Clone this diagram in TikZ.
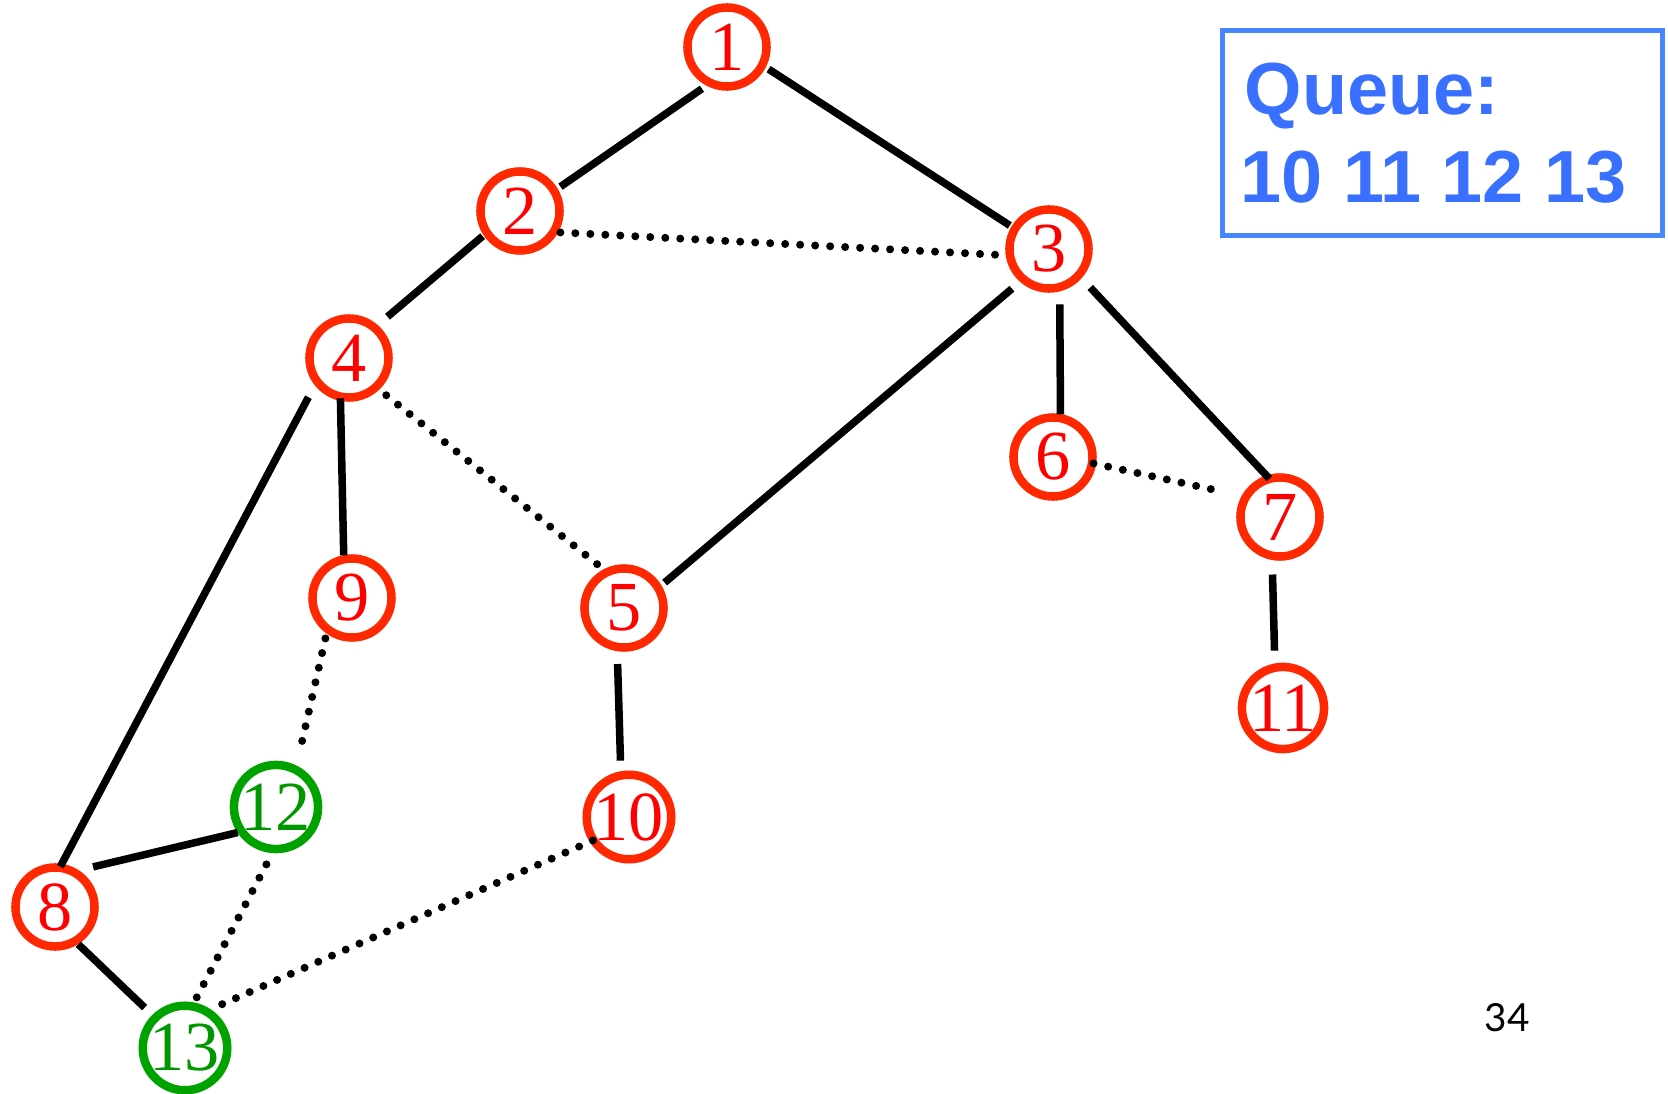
\documentclass[tikz,border=0pt]{standalone}
\usepackage{fontspec}
\setmainfont{Liberation Serif}
\newfontfamily\queuefont{Liberation Sans}
\newfontfamily\pagefont{Lato}
\usetikzlibrary{calc}
\definecolor{ringred}{RGB}{255,40,0}
\definecolor{numred}{RGB}{255,0,0}
\definecolor{ringgreen}{RGB}{0,162,0}
\definecolor{numgreen}{RGB}{0,150,0}
\definecolor{queueblue}{RGB}{70,135,255}
\definecolor{queuetext}{RGB}{58,112,255}
\begin{document}
\begin{tikzpicture}[x=0.01cm,y=0.01cm,
  vertex/.style={circle,draw=ringred,text=numred,line width=0.085cm,minimum size=0.79cm,inner sep=0pt,font=\fontsize{20}{20}\selectfont},
  newvertex/.style={vertex,draw=ringgreen,text=numgreen},
  tree/.style={line width=0.075cm},
  cross/.style={line width=0.08cm,line cap=round,dash pattern=on 0pt off 0.15cm},
  qbox/.style={draw=queueblue,line width=0.055cm,minimum width=4.4cm,minimum height=2.05cm,inner sep=0pt},
  qtext/.style={text=queuetext,anchor=base west,inner sep=0pt,font=\queuefont\fontsize{21}{21}\selectfont\bfseries}]
\useasboundingbox (0,0) rectangle (1668,-1094);
\node[vertex] (n1) at (727,-47) {\raisebox{-2pt}{1}};
\node[vertex] (n2) at (520,-211) {\raisebox{-2pt}{2}};
\node[vertex] (n3) at (1049,-249) {\raisebox{-2pt}{3}};
\node[vertex] (n4) at (349,-358) {\raisebox{-2pt}{4}};
\node[vertex] (n5) at (624,-608) {\raisebox{-2pt}{5}};
\node[vertex] (n6) at (1053,-457) {\raisebox{-2pt}{6}};
\node[vertex] (n7) at (1280,-517) {\raisebox{-2pt}{7}};
\node[vertex] (n8) at (55,-907) {\raisebox{-2pt}{8}};
\node[vertex] (n9) at (352,-598) {\raisebox{-2pt}{9}};
\node[vertex] (n10) at (629,-817) {\raisebox{-2pt}{10}};
\node[vertex] (n11) at (1283,-708) {\raisebox{-2pt}{11}};
\node[newvertex] (n12) at (276,-807) {\raisebox{-2pt}{12}};
\node[newvertex] (n13) at (185,-1048) {\raisebox{-2pt}{13}};
\draw[tree] ($(n1)+(239:48.7)$) -- ($(n2)+(31:47.2)$);
\draw[tree] ($(n1)+(332:47.1)$) -- ($(n3)+(149:45.7)$);
\draw[tree] ($(n2)+(214:45.1)$) -- ($(n4)+(47:56.4)$);
\draw[tree] ($(n3)+(227:54.3)$) -- ($(n5)+(32:47.9)$);
\draw[tree] ($(n3)+(281:56.4)$) -- ($(n6)+(80:43.2)$);
\draw[tree] ($(n3)+(317:56.4)$) -- ($(n7)+(105.5:39.8)$);
\draw[tree] ($(n4)+(258:41.3)$) -- ($(n9)+(101:43.4)$);
\draw[tree] ($(n4)+(224:56.4)$) -- ($(n8)+(82.5:40.7)$);
\draw[tree] ($(n5)+(263.5:56.4)$) -- ($(n10)+(98.6:57)$);
\draw[tree] ($(n7)+(262.6:58)$) -- ($(n11)+(98.4:58)$);
\draw[tree] ($(n8)+(46.5:55.3)$) -- ($(n12)+(213.7:46)$);
\draw[tree] ($(n8)+(302:44)$) -- ($(n13)+(135:57.1)$);
\draw[cross] ($(n2)+(332:45.7)$) -- ($(n3)+(189:41)$);
\draw[cross] ($(n4)+(315:52.7)$) -- ($(n5)+(118.4:44.7)$);
\draw[cross] ($(n6)+(351:41)$) -- ($(n7)+(156.4:63.8)$);
\draw[cross] ($(n9)+(236.7:48.4)$) -- ($(n12)+(67.3:63.4)$);
\draw[cross] ($(n12)+(260.5:58.2)$) -- ($(n13)+(80:43.2)$);
\draw[cross] ($(n10)+(213:43.1)$) -- ($(n13)+(51.3:54.3)$);
\node[qbox] (queue) at (1442.5,-133) {};
\node[qtext] (qhead) at (1244,-115) {Queue:};
\node[qtext] (qlist) at (1240,-203) {10 11 12 13};
\node[font=\pagefont\fontsize{11}{11}\selectfont] (page) at (1507,-1018) {34};
\end{tikzpicture}
\end{document}
